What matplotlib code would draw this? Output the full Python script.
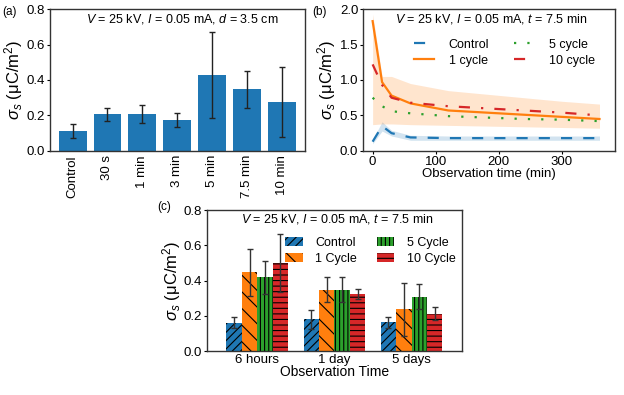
import numpy as np
import matplotlib
matplotlib.use("Agg")
import matplotlib.pyplot as plt

plt.rcParams['font.family'] = ['Liberation Sans', 'DejaVu Sans']
plt.rcParams['mathtext.fontset'] = 'custom'
plt.rcParams['mathtext.rm'] = 'Liberation Sans'
plt.rcParams['mathtext.it'] = 'Liberation Sans:italic'
plt.rcParams['hatch.color'] = 'black'
plt.rcParams['hatch.linewidth'] = 0.8

# (a) charge density vs treatment time
a_labels = ['Control', '30 s', '1 min', '3 min', '5 min', '7.5 min', '10 min']
a_mean = [0.113, 0.206, 0.209, 0.172, 0.43, 0.347, 0.277]
a_err = [0.04, 0.035, 0.05, 0.04, 0.243, 0.104, 0.196]

# (b) decay over observation time (min)
b_time = [0, 15, 30, 60, 120, 180, 240, 300, 360]
b_control = [0.13, 0.35, 0.25, 0.19, 0.18, 0.18, 0.18, 0.18, 0.18]
b_control_lo = [0.10, 0.28, 0.21, 0.15, 0.15, 0.15, 0.15, 0.15, 0.15]
b_control_hi = [0.16, 0.41, 0.29, 0.22, 0.21, 0.21, 0.21, 0.21, 0.21]
b_1cycle = [1.83, 0.97, 0.78, 0.67, 0.57, 0.54, 0.51, 0.48, 0.45]
b_1cycle_lo = [0.37, 0.38, 0.38, 0.37, 0.36, 0.35, 0.34, 0.33, 0.32]
b_1cycle_hi = [1.93, 1.05, 1.05, 0.95, 0.85, 0.80, 0.75, 0.70, 0.66]
b_5cycle = [0.75, 0.63, 0.56, 0.53, 0.49, 0.47, 0.45, 0.44, 0.42]
b_10cycle = [1.22, 0.93, 0.75, 0.68, 0.63, 0.60, 0.57, 0.54, 0.50]

# (c) charge density after storage
c_groups = ['6 hours', '1 day', '5 days']
c_series = ['Control', '1 Cycle', '5 Cycle', '10 Cycle']
c_mean = [[0.161, 0.18, 0.163],
          [0.447, 0.349, 0.237],
          [0.419, 0.349, 0.309],
          [0.50, 0.322, 0.212]]
c_err = [[0.03, 0.054, 0.033],
         [0.134, 0.071, 0.149],
         [0.094, 0.07, 0.07],
         [0.165, 0.028, 0.036]]

ylab = r'$\sigma_s$ (μC/m$^2$)'
colors = ['#1f77b4', '#ff7f0e', '#2ca02c', '#d62728']

fig = plt.figure(figsize=(6.24, 3.95), dpi=100)
ax_a = fig.add_axes([0.080, 0.618, 0.409, 0.359])
ax_b = fig.add_axes([0.582, 0.618, 0.404, 0.359])
ax_c = fig.add_axes([0.332, 0.111, 0.408, 0.357])

for ax in (ax_a, ax_b, ax_c):
    ax.tick_params(labelsize=9.5, length=2, width=0.8, pad=1.5)
    for s in ax.spines.values():
        s.set_color('#333333')
        s.set_linewidth(1.0)

# panel a
x = np.arange(len(a_labels))
ax_a.bar(x, a_mean, 0.8, yerr=a_err, color=colors[0], capsize=2.5,
         error_kw=dict(elinewidth=1, ecolor='#222222', capthick=1))
ax_a.set_xticks(x)
ax_a.set_xticklabels(a_labels, rotation=90, fontsize=9.5)
ax_a.tick_params(axis='x', length=0, pad=3)
ax_a.set_xlim(-0.65, 6.67)
ax_a.set_ylim(0, 0.8)
ax_a.set_yticks([0, 0.2, 0.4, 0.6, 0.8])
ax_a.set_ylabel(ylab, fontsize=12, labelpad=1)
ax_a.text(0.52, 0.93, r'$V$ = 25 kV, $I$ = 0.05 mA, $d$ = 3.5 cm',
          transform=ax_a.transAxes, ha='center', va='center', fontsize=9)

# panel b
ax_b.fill_between(b_time, b_control_lo, b_control_hi, color=colors[0], alpha=0.2, lw=0)
ax_b.fill_between(b_time, b_1cycle_lo, b_1cycle_hi, color=colors[1], alpha=0.2, lw=0)
ax_b.plot(b_time, b_control, color=colors[0], ls=(0, (5, 5)), lw=1.6, label='Control')
ax_b.plot(b_time, b_1cycle, color=colors[1], ls='-', lw=1.6, label='1 cycle')
ax_b.plot(b_time, b_5cycle, color=colors[2], ls=(0, (1, 5)), lw=1.6, label='5 cycle')
ax_b.plot(b_time, b_10cycle, color=colors[3], ls=(0, (5, 5, 1, 5)), lw=1.6, label='10 cycle')
ax_b.set_xlim(-15, 385)
ax_b.set_ylim(0, 2.0)
ax_b.set_xticks([0, 100, 200, 300])
ax_b.set_yticks([0, 0.5, 1.0, 1.5, 2.0])
ax_b.set_ylabel(ylab, fontsize=12, labelpad=1)
ax_b.set_xlabel('Observation time (min)', fontsize=9.5, labelpad=0)
ax_b.text(0.51, 0.93, r'$V$ = 25 kV, $I$ = 0.05 mA, $t$ = 7.5 min',
          transform=ax_b.transAxes, ha='center', va='center', fontsize=9)
ax_b.legend(ncol=2, frameon=False, fontsize=9, loc='upper center',
            bbox_to_anchor=(0.56, 0.87), handlelength=1.6, columnspacing=2.0,
            handletextpad=1.2, labelspacing=0.3)

# panel c
hatches = ['////', '\\\\', '||||', '---']
gx = np.arange(len(c_groups))
w = 0.2
for i in range(len(c_series)):
    ax_c.bar(gx + (i - 1.5) * w, c_mean[i], w, yerr=c_err[i], color=colors[i],
             hatch=hatches[i], lw=0, label=c_series[i], capsize=2.5,
             error_kw=dict(elinewidth=1, ecolor='#333333', capthick=1))
ax_c.set_xticks(gx)
ax_c.set_xticklabels(c_groups)
ax_c.tick_params(axis='x', length=0, pad=2)
ax_c.set_xlim(-0.65, 2.65)
ax_c.set_ylim(0, 0.8)
ax_c.set_yticks([0, 0.2, 0.4, 0.6, 0.8])
ax_c.set_ylabel(ylab, fontsize=12, labelpad=1)
ax_c.set_xlabel('Observation Time', fontsize=10, labelpad=-1)
ax_c.text(0.51, 0.94, r'$V$ = 25 kV, $I$ = 0.05 mA, $t$ = 7.5 min',
          transform=ax_c.transAxes, ha='center', va='center', fontsize=9)
ax_c.legend(ncol=2, frameon=False, fontsize=9, loc='upper right',
            bbox_to_anchor=(1.02, 0.89), handlelength=1.4, columnspacing=1.6,
            handletextpad=1.0, labelspacing=0.3)

fig.text(0.003, 0.985, '(a)', fontsize=8.5, va='top')
fig.text(0.500, 0.985, '(b)', fontsize=8.5, va='top')
fig.text(0.252, 0.492, '(c)', fontsize=8.5, va='top')

fig.savefig('out.png', dpi=100)
